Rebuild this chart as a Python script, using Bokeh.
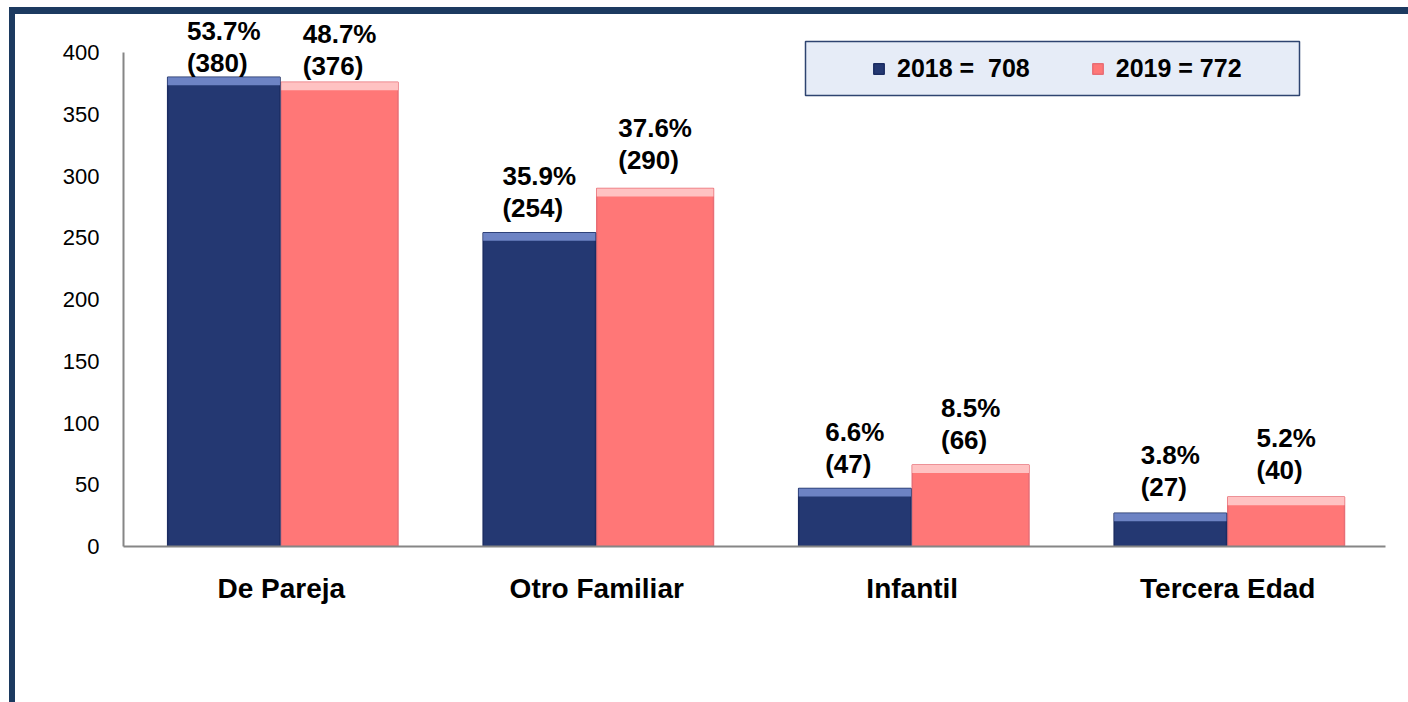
from bokeh.plotting import figure
from bokeh.models import (ColumnDataSource, FactorRange, Range1d, FixedTicker, LabelSet,
                          Legend, LegendItem, BoxAnnotation)
from bokeh.core.properties import value
from bokeh.transform import dodge
from bokeh.embed import file_html
from bokeh.resources import INLINE

# ---------------- data ----------------
categories = ["De Pareja", "Otro Familiar", "Infantil", "Tercera Edad"]
values_2018 = [380, 254, 47, 27]
values_2019 = [376, 290, 66, 40]
pct_2018 = ["53.7%", "35.9%", "6.6%", "3.8%"]
pct_2019 = ["48.7%", "37.6%", "8.5%", "5.2%"]
total_2018 = 708
total_2019 = 772
y_ticks = [0, 50, 100, 150, 200, 250, 300, 350, 400]

# ---------------- styles ----------------
label_gap_2018 = [-1, 10, 9, 11]   # px between bar top and its label
label_gap_2019 = [1, 13, 10, 12]
BEVEL = 6.5                        # bevel strip height (data units)
Y_TOP = 430.8                      # room above 400 for the labels
NAVY, NAVY_TOP, NAVY_EDGE = "#243872", "#6D83C4", "#1B2C62"
SALMON, SALMON_TOP, SALMON_EDGE = "#FF7777", "#FFC2C2", "#E86E76"
FONT = "Liberation Sans"
FRAME = "#1C3A60"

src = ColumnDataSource(dict(
    cat=categories,
    v18=values_2018,
    v19=values_2019,
    b18=[v - BEVEL for v in values_2018],
    b19=[v - BEVEL for v in values_2019],
    lab18=[f"{p}\n({v})" for p, v in zip(pct_2018, values_2018)],
    lab19=[f"{p}\n({v})" for p, v in zip(pct_2019, values_2019)],
    g18=label_gap_2018,
    g19=label_gap_2019,
))

W, H = 1393, 688
p = figure(x_range=FactorRange(*categories), y_range=Range1d(0, Y_TOP),
           width=W, height=H, output_backend="svg", toolbar_location=None,
           min_border_left=108, min_border_right=23, min_border_top=0,
           min_border_bottom=156, background_fill_color="white",
           border_fill_color="white", outline_line_color=None)
p.styles = {"margin-top": "14px", "margin-left": "15px",
            "box-shadow": f"0 -7px 0 0 {FRAME}, -6px 0 0 0 {FRAME}, -6px -7px 0 0 {FRAME}"}
p.xgrid.visible = False
p.ygrid.visible = False

x18 = dodge("cat", -0.182, range=p.x_range)
x19 = dodge("cat", 0.185, range=p.x_range)

# bars with a light bevel on top
r19 = p.vbar(x=x19, top="v19", bottom=0, width=0.37, source=src,
             fill_color=SALMON, line_color=SALMON_EDGE, line_width=1.5)
p.vbar(x=x19, top="v19", bottom="b19", width=0.37, source=src,
       fill_color=SALMON_TOP, line_color=None)
r18 = p.vbar(x=x18, top="v18", bottom=0, width=0.356, source=src,
             fill_color=NAVY, line_color=NAVY_EDGE, line_width=1.5)
p.vbar(x=x18, top="v18", bottom="b18", width=0.356, source=src,
       fill_color=NAVY_TOP, line_color=None)

# value labels
for xs, ycol, lab, gap in [(x18, "v18", "lab18", "g18"), (x19, "v19", "lab19", "g19")]:
    p.add_layout(LabelSet(x=xs, y=ycol, text=lab, y_offset=gap, source=src,
                          text_align="center", text_baseline="bottom",
                          text_font=value(FONT), text_font_style="bold",
                          text_font_size="26px", text_color="black",
                          text_line_height=1.07))

# axes
p.yaxis.ticker = FixedTicker(ticks=y_ticks)
p.yaxis.bounds = (0, 400)
p.yaxis.minor_tick_line_color = None
p.yaxis.major_tick_line_color = None
p.yaxis.major_tick_out = 0
p.yaxis.major_tick_in = 0
p.yaxis.major_label_standoff = 24
p.yaxis.major_label_text_font = FONT
p.yaxis.major_label_text_font_size = "22px"
p.yaxis.major_label_text_color = "black"
p.yaxis.axis_line_color = "#868686"
p.yaxis.axis_line_width = 2

p.xaxis.major_tick_line_color = None
p.xaxis.minor_tick_line_color = None
p.xaxis.major_tick_out = 0
p.xaxis.major_tick_in = 0
p.xaxis.major_label_standoff = 26
p.xaxis.major_label_text_font = FONT
p.xaxis.major_label_text_font_style = "bold"
p.xaxis.major_label_text_font_size = "28px"
p.xaxis.major_label_text_color = "black"
p.xaxis.axis_line_color = "#868686"
p.xaxis.axis_line_width = 2

# legend box + legend
p.add_layout(BoxAnnotation(left=682, right=1176, top=505, bottom=451,
                           left_units="screen", right_units="screen",
                           top_units="screen", bottom_units="screen",
                           fill_color="#E6ECF7", fill_alpha=1,
                           line_color="#2E4470", line_width=1.5, line_alpha=1))
legend = Legend(items=[LegendItem(label=f"2018 =  {total_2018}", renderers=[r18]),
                       LegendItem(label=f"2019 = {total_2019}", renderers=[r19])],
                orientation="horizontal", location=(749, 463),
                padding=0, margin=0, spacing=61, label_standoff=12,
                glyph_width=13, glyph_height=13, label_height=30,
                label_text_font=FONT, label_text_font_style="bold",
                label_text_font_size="25px", label_text_color="black",
                background_fill_alpha=0, border_line_color=None)
p.add_layout(legend)

open("out.html", "w").write(file_html(p, INLINE))
